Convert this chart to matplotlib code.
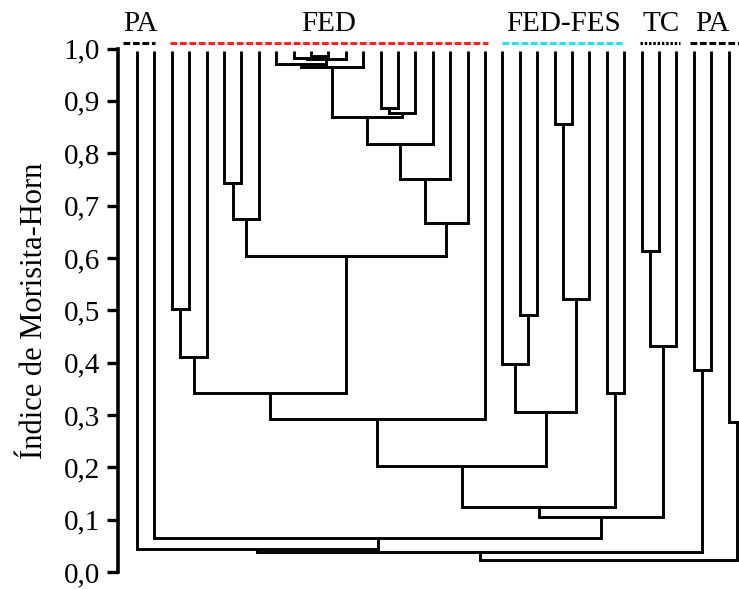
import matplotlib
matplotlib.use("Agg")
import matplotlib.pyplot as plt
import numpy as np

# leaves 0..35 (leaf 35 lies just outside the right edge of the frame)
n_leaves = 36
leaf_top = 0.996

# merges: node id = n_leaves + row index
merge_left = [10, 9, 37, 8, 39, 14, 41, 40, 43, 44, 45, 5, 47, 48, 2, 50, 51, 52,
              22, 21, 24, 56, 55, 53, 27, 59, 29, 62, 61, 1, 32, 0, 67, 34, 68]
merge_right = [11, 36, 12, 38, 13, 15, 16, 42, 17, 18, 19, 6, 7, 46, 3, 4, 49, 20,
               23, 54, 25, 26, 57, 58, 28, 60, 30, 31, 63, 64, 33, 65, 66, 35, 69]
merge_height = [0.985, 0.981, 0.979, 0.970, 0.964, 0.886, 0.876, 0.870, 0.817,
                0.750, 0.667, 0.743, 0.674, 0.604, 0.503, 0.410, 0.341, 0.293,
                0.490, 0.398, 0.855, 0.522, 0.305, 0.202, 0.341, 0.124, 0.613,
                0.432, 0.105, 0.065, 0.385, 0.044, 0.038, 0.286, 0.023]

# group labels on top
group_names = ["PA", "FED", "FED-FES", "TC", "PA"]
group_text_x = [0.17, 11.0, 24.5, 30.1, 33.1]
group_span = [(-0.8, 1.03), (1.9, 20.2), (21.0, 27.9), (28.9, 31.2), (31.8, 34.7)]
group_color = ["black", "#ff2020", "#20e5f0", "black", "black"]
group_dash = [(2.2, 0.9), (2.2, 0.9), (2.2, 0.9), (0.8, 0.6), (2.2, 0.9)]

yticks = np.arange(0, 1.01, 0.1)
ytick_labels = [f"{v:.1f}".replace(".", ",") for v in yticks]

serif = ["Liberation Serif", "DejaVu Serif"]
plt.rcParams["font.family"] = serif

fig = plt.figure(figsize=(7.39, 5.89), dpi=100)
ax = fig.add_axes([118 / 739, 17 / 589, 621 / 739, 523.5 / 589])

xpos = {i: float(i) for i in range(n_leaves)}
ypos = {i: leaf_top for i in range(n_leaves)}
lw = 2.1
for k, (a, b, h) in enumerate(zip(merge_left, merge_right, merge_height)):
    xa, xb = xpos[a], xpos[b]
    ax.plot([xa, xa, xb, xb], [ypos[a], h, h, ypos[b]], color="black", lw=lw,
            solid_joinstyle="miter", solid_capstyle="butt")
    node = n_leaves + k
    xpos[node] = (xa + xb) / 2
    ypos[node] = h

for name, tx, (x0, x1), col, dash in zip(group_names, group_text_x, group_span,
                                          group_color, group_dash):
    ax.plot([x0, x1], [1.0105, 1.0105], color=col, lw=2.2, dashes=dash,
            clip_on=False, solid_capstyle="butt", dash_capstyle="butt")
    ax.text(tx, 1.033, name, ha="center", va="baseline", fontsize=21,
            clip_on=False)

ax.set_xlim(-1.092, 34.6)
ax.set_ylim(0, 1)
for s in ["top", "right", "bottom"]:
    ax.spines[s].set_visible(False)
ax.spines["left"].set_linewidth(2.6)
ax.set_xticks([])
ax.set_yticks(yticks)
ax.set_yticklabels(ytick_labels)
ax.tick_params(axis="y", direction="out", length=8, width=2.4, pad=5,
               labelsize=21)

fig.text(35 / 739, 1 - 311 / 589, "Índice de Morisita-Horn", rotation=90,
         ha="center", va="center", fontsize=22)

fig.savefig("out.png", dpi=100)
